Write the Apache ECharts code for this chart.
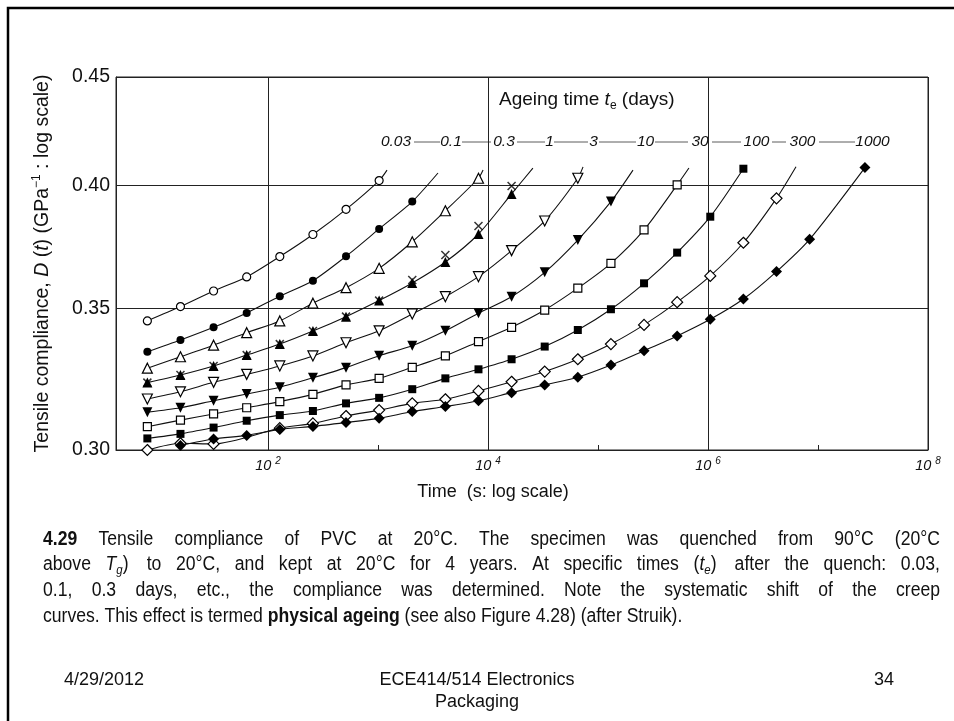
<!DOCTYPE html>
<html>
<head>
<meta charset="utf-8">
<script src="https://cdn.jsdelivr.net/npm/echarts@6/dist/echarts.min.js"></script>
<style>
html, body { margin: 0; padding: 0; background: #fff; }
#chart { width: 954px; height: 721px; }
</style>
</head>
<body>
<div id="chart"></div>
<script>
// ageing time t_e (days), one curve each
var ageLabels = ['0.03', '0.1', '0.3', '1', '3', '10', '30', '100', '300', '1000'];

// creep time of the measured points (s)
var times = [8, 16, 32, 64, 128, 256, 512, 1024, 2048, 4096, 8192, 16384, 32768,
  65536, 131072, 262144, 524288, 1048576, 2097152, 4194304, 8388608, 26700000];

// compliance D(t) in 1/GPa, aligned with times
var d003 = [0.3452, 0.3506, 0.3566, 0.3621, 0.3702, 0.3792, 0.3897, 0.4021];
var d01 = [0.3338, 0.3381, 0.3428, 0.3482, 0.3546, 0.3606, 0.3703, 0.3815, 0.3930];
var d03 = [0.3279, 0.3320, 0.3362, 0.3408, 0.3452, 0.3519, 0.3579, 0.3655, 0.3762, 0.3891, 0.4031];
var d1 = [0.3228, 0.3255, 0.3287, 0.3326, 0.3366, 0.3414, 0.3468, 0.3529, 0.3597, 0.3680, 0.3794, 0.3963];
var d1cross = [0.3228, 0.3255, 0.3287, 0.3326, 0.3366, 0.3414, 0.3468, 0.3529, 0.3609, 0.3708, 0.3827, 0.3997];
var d3 = [0.3171, 0.3196, 0.3229, 0.3257, 0.3287, 0.3323, 0.3371, 0.3415, 0.3478, 0.3544, 0.3622, 0.3726, 0.3848, 0.4031];
var d10 = [0.3126, 0.3141, 0.3165, 0.3188, 0.3212, 0.3245, 0.3281, 0.3324, 0.3360, 0.3415, 0.3481, 0.3544, 0.3639, 0.3769, 0.3930];
var d30 = [0.3077, 0.3099, 0.3120, 0.3141, 0.3162, 0.3187, 0.3220, 0.3243, 0.3282, 0.3323, 0.3375, 0.3428, 0.3493, 0.3577, 0.3675, 0.3811, 0.4002];
var d100 = [0.3038, 0.3053, 0.3074, 0.3097, 0.3116, 0.3130, 0.3156, 0.3175, 0.3205, 0.3243, 0.3275, 0.3311, 0.3357, 0.3418, 0.3496, 0.3596, 0.3718, 0.3866, 0.4073];
var d300 = [0.3000, 0.3022, 0.3020, null, 0.3072, 0.3088, 0.3113, 0.3133, 0.3156, 0.3170, 0.3199, 0.3231, 0.3267, 0.3311, 0.3366, 0.3437, 0.3523, 0.3625, 0.3758, 0.3944];
var d1000 = [null, 0.3015, 0.3036, 0.3048, 0.3068, 0.3078, 0.3091, 0.3105, 0.3128, 0.3145, 0.3165, 0.3193, 0.3220, 0.3247, 0.3290, 0.3342, 0.3396, 0.3458, 0.3535, 0.3642, 0.3772, 0.4078];

// where each drawn curve runs on past its last point (no marker)
var tailT = [1208, 3510, 9016, 25600, 73100, 208000, 671000, null, 6310000, null];
var tailD = [0.4067, 0.4054, 0.4067, 0.4076, 0.4081, 0.4067, 0.4076, null, 0.4082, null];

var yTicks = [0.30, 0.35, 0.40, 0.45];
var xLabelTicks = [1e2, 1e4, 1e6, 1e8];
var xMinorTicks = [1e3, 1e5, 1e7];

var chartDom = document.getElementById('chart');
var myChart = echarts.init(chartDom, null, { renderer: 'canvas' });

var curves = [d003, d01, d03, d1, d3, d10, d30, d100, d300, d1000];
var shapes = ['circle', 'circle', 'triangle', 'triangle', 'triangle', 'triangle', 'rect', 'rect', 'diamond', 'diamond'];
var filled = [false, true, false, true, false, true, false, true, false, true];
var rotate = [0, 0, 0, 0, 180, 180, 0, 0, 0, 0];
var sizes = [8, 8, 10, 10, 10, 10, 8, 8, 11, 11];

var FONT = 'Liberation Sans, Arial, sans-serif';

var series = [];
curves.forEach(function (vals, i) {
  var data = [];
  vals.forEach(function (v, k) {
    if (v != null) data.push([times[k], v]);
  });
  if (tailT[i] != null) {
    data.push({ value: [tailT[i], tailD[i]], symbol: 'none' });
  }
  series.push({
    name: ageLabels[i],
    type: 'line',
    data: data,
    smooth: 0.25,
    showAllSymbol: true,
    symbol: shapes[i],
    symbolSize: sizes[i],
    symbolRotate: rotate[i],
    lineStyle: { color: '#111', width: 1.1 },
    itemStyle: {
      color: filled[i] ? '#000' : '#fff',
      borderColor: '#000',
      borderWidth: filled[i] ? 0 : 1.2
    },
    z: 3
  });
});
// the crosses plotted with the 1-day curve
series.push({
  type: 'scatter',
  data: d1cross.map(function (v, k) { return [times[k], v]; }),
  symbol: 'path://M0,0L10,10M10,0L0,10',
  symbolSize: 8,
  itemStyle: { color: 'transparent', borderColor: '#000', borderWidth: 1.5 },
  z: 4
});

function powLabel(v) {
  var e = Math.round(Math.log10(v));
  return '{b|10 }{s|' + e + '}';
}

// t_e label row above the curves
var rowX = [396, 451, 504, 549.5, 593.5, 645.5, 700, 756.5, 802.5, 872.5];
var rowGaps = [[414, 440], [462, 491], [517, 545], [554, 588], [599, 636], [655, 688], [712, 741], [772, 786], [819, 855]];
var graphics = [
  { type: 'rect', shape: { x: 8, y: 8, width: 980, height: 760 }, style: { fill: 'none', stroke: '#000', lineWidth: 2.5 }, silent: true },
  {
    type: 'text', left: 499, top: 90,
    style: {
      text: 'Ageing time {i|t}{sub|e} (days)',
      font: '19px ' + FONT, fill: '#111',
      rich: {
        i: { fontSize: 19, fontStyle: 'italic', fontFamily: FONT, lineHeight: 24 },
        sub: { fontSize: 12, fontFamily: FONT, lineHeight: 13, verticalAlign: 'bottom' }
      }
    }
  }
];
ageLabels.forEach(function (lab, i) {
  graphics.push({
    type: 'text', x: rowX[i], y: 142,
    style: { text: lab, font: 'italic 15.5px ' + FONT, fill: '#111', align: 'center', verticalAlign: 'middle' }
  });
});
rowGaps.forEach(function (g) {
  graphics.push({ type: 'line', shape: { x1: g[0], y1: 142, x2: g[1], y2: 142 }, style: { stroke: '#333', lineWidth: 0.8 } });
});

// caption (condensed, lines 1-3 justified) and slide footer
var captionLines = [
  '{b|4.29}  Tensile compliance of PVC at 20°C. The specimen was quenched from 90°C (20°C',
  'above {i|T}{sub|g}) to 20°C, and kept at 20°C for 4 years. At specific times ({i|t}{sub|e}) after the quench: 0.03,',
  '0.1, 0.3 days, etc., the compliance was determined. Note the systematic shift of the creep',
  'curves. This effect is termed {b|physical ageing} (see also Figure 4.28) (after Struik).'
];
var captionRich = {
  b: { fontWeight: 'bold', fontSize: 20, fontFamily: FONT, lineHeight: 24 },
  i: { fontStyle: 'italic', fontSize: 20, fontFamily: FONT, lineHeight: 24 },
  sub: { fontStyle: 'italic', fontSize: 13, fontFamily: FONT, lineHeight: 12, verticalAlign: 'bottom' }
};
var capScale = 0.88;
var capLeft = 43;
var capWidth = 897;
var measureCtx = document.createElement('canvas').getContext('2d');
function capWordWidth(w) {
  measureCtx.font = (w.indexOf('{b|') >= 0 ? 'bold ' : '') + '20px ' + FONT;
  return measureCtx.measureText(w.replace(/\{\w+\|([^}]*)\}/g, '$1')).width * capScale;
}
function capText(text, x, y) {
  return {
    type: 'text', x: x, y: y, scaleX: capScale,
    style: { text: text, font: '20px ' + FONT, fill: '#111', verticalAlign: 'middle', rich: captionRich }
  };
}
captionLines.forEach(function (line, i) {
  var y = 539 + i * 25.7;
  if (i === captionLines.length - 1) {
    graphics.push(capText(line, capLeft, y));
    return;
  }
  var words = line.split(/\s+/);
  var widths = words.map(capWordWidth);
  var total = widths.reduce(function (a, b) { return a + b; }, 0);
  var gap = (capWidth - total) / (words.length - 1);
  var x = capLeft;
  words.forEach(function (w, k) {
    graphics.push(capText(w, x, y));
    x += widths[k] + gap;
  });
});
graphics.push(
  { type: 'text', x: 64, y: 680, style: { text: '4/29/2012', font: '18px ' + FONT, fill: '#111', verticalAlign: 'middle' } },
  { type: 'text', x: 477, y: 680, style: { text: 'ECE414/514 Electronics', font: '18px ' + FONT, fill: '#111', align: 'center', verticalAlign: 'middle' } },
  { type: 'text', x: 477, y: 702, style: { text: 'Packaging', font: '18px ' + FONT, fill: '#111', align: 'center', verticalAlign: 'middle' } },
  { type: 'text', x: 884, y: 680, style: { text: '34', font: '18px ' + FONT, fill: '#111', align: 'center', verticalAlign: 'middle' } }
);

var option = {
  animation: false,
  backgroundColor: '#fff',
  grid: {
    left: 116, right: 26, top: 77, bottom: 271,
    show: true, borderColor: '#222', borderWidth: 1, backgroundColor: 'transparent'
  },
  xAxis: [
    {
      type: 'log',
      logBase: 10,
      min: 4.15,
      max: 1e8,
      axisLine: { show: true, lineStyle: { color: '#222', width: 1 } },
      axisTick: { show: true, inside: true, length: 5, customValues: xLabelTicks, lineStyle: { color: '#222' } },
      axisLabel: {
        customValues: xLabelTicks,
        formatter: powLabel,
        margin: 6,
        color: '#111',
        rich: {
          b: { fontSize: 14.5, fontStyle: 'italic', fontFamily: FONT, lineHeight: 20, verticalAlign: 'middle' },
          s: { fontSize: 10, fontStyle: 'italic', fontFamily: FONT, lineHeight: 10, verticalAlign: 'top' }
        }
      },
      splitLine: { show: true, lineStyle: { color: '#222', width: 1 } },
      name: 'Time  (s: log scale)',
      nameLocation: 'middle',
      nameGap: 33,
      nameTextStyle: { fontSize: 18, fontFamily: FONT, color: '#111', padding: [0, 58, 0, 0] }
    },
    {
      type: 'log',
      logBase: 10,
      min: 4.15,
      max: 1e8,
      position: 'bottom',
      axisLine: { show: false },
      axisTick: { show: true, inside: true, length: 5, customValues: xMinorTicks, lineStyle: { color: '#222' } },
      axisLabel: { show: false },
      splitLine: { show: false }
    }
  ],
  yAxis: {
    type: 'log',
    logBase: 10,
    min: 0.30,
    max: 0.45,
    axisLine: { show: true, lineStyle: { color: '#222', width: 1 } },
    axisTick: { show: false, customValues: yTicks },
    axisLabel: {
      customValues: yTicks,
      formatter: function (v) { return v.toFixed(2); },
      fontSize: 19.5,
      fontFamily: FONT,
      color: '#111',
      margin: 6
    },
    splitLine: { show: true, lineStyle: { color: '#222', width: 1 } },
    name: 'Tensile compliance, {i|D} ({i|t}) (GPa{sup|\u22121} : log scale)',
    nameLocation: 'middle',
    nameRotate: 90,
    nameGap: 61,
    nameTextStyle: {
      fontSize: 19.5, fontFamily: FONT, color: '#111',
      rich: {
        i: { fontSize: 19.5, fontStyle: 'italic', fontFamily: FONT, lineHeight: 24 },
        sup: { fontSize: 12, fontFamily: FONT, lineHeight: 11, verticalAlign: 'top' }
      }
    }
  },
  graphic: graphics,
  series: series
};

option && myChart.setOption(option);
</script>
</body>
</html>
